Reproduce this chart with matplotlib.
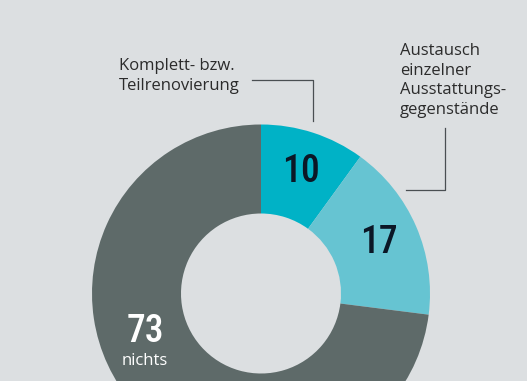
import numpy as np
import matplotlib
matplotlib.use("Agg")
import matplotlib.pyplot as plt

# Data
labels = ["Komplett- bzw.\nTeilrenovierung", "Austausch\neinzelner\nAusstattungs-\ngegenstände", "nichts"]
values = [10, 17, 73]
colors = ["#00b2c6", "#66c4d2", "#5e6a69"]
bg = "#dcdfe1"

fig = plt.figure(figsize=(5.27, 3.81), dpi=100, facecolor=bg)
ax = fig.add_axes([0, 0, 1, 1])
ax.set_facecolor(bg)

# donut, coordinates in pixels (y up)
cx, cy = 261, 381 - 293.5
R, w = 169, 89
ax.pie(values, colors=colors, startangle=90, counterclock=False,
       center=(cx, cy), radius=R,
       wedgeprops=dict(width=w, linewidth=0))
ax.set_xlim(0, 527)
ax.set_ylim(0, 381)
ax.set_aspect("equal")
ax.axis("off")

num_font = ["Roboto Condensed", "DejaVu Sans"]

# value labels at the middle of the ring
angles = np.cumsum([0] + values[:-1]) + np.array(values) / 2
for i, (v, a) in enumerate(zip(values, angles)):
    th = np.deg2rad(90 - a * 3.6)
    r = 128
    if i == 2:
        th = np.deg2rad(198)
        r = 122
    x, y = cx + r * np.cos(th), cy + r * np.sin(th)
    col = "white" if i == 2 else "#0b1726"
    ax.text(x, y, str(v), ha="center", va="center", fontsize=27,
            fontweight="medium", family=num_font, fontstretch="condensed", color=col)
    if i == 2:
        ax.text(x, y - 30, labels[2], ha="center", va="center",
                fontsize=12, family="Open Sans", color="white")

# category labels with leader lines
ax.text(119, 381 - 58, labels[0], ha="left", va="top", fontsize=12,
        family="Open Sans", color="#2b2b2b", linespacing=1.3)
ax.plot([252, 313, 313], [381 - 79.5, 381 - 79.5, 381 - 121], color="#4a4f52", lw=0.9)

ax.text(400, 381 - 43, labels[1], ha="left", va="top", fontsize=12,
        family="Open Sans", color="#2b2b2b", linespacing=1.3)
ax.plot([445, 445, 406], [381 - 128, 381 - 190, 381 - 190], color="#4a4f52", lw=0.9)

fig.savefig("out.png", dpi=100, facecolor=bg)
